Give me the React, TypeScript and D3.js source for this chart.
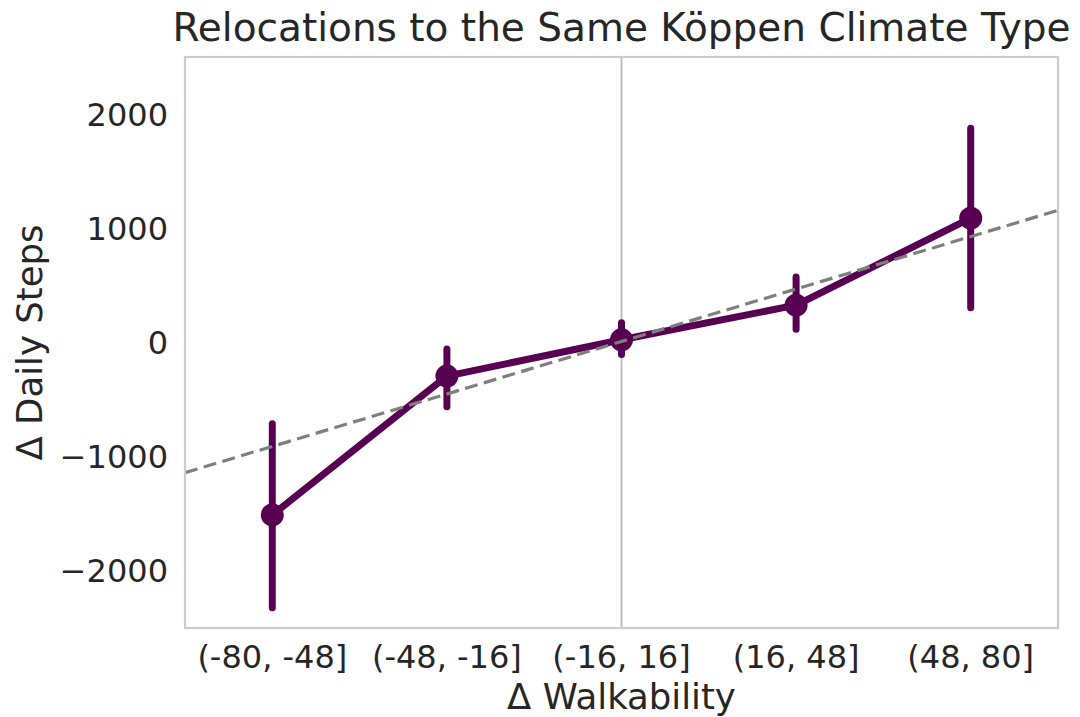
import React, { useEffect, useRef } from "react";
import * as d3 from "d3";

const categories = ["(-80, -48]", "(-48, -16]", "(-16, 16]", "(16, 48]", "(48, 80]"];
const meanSteps = [-1510, -294, 24, 327, 1089];
const ciLow = [-2322, -563, -106, 115, 305];
const ciHigh = [-711, -57, 172, 574, 1877];
const yTicks = [-2000, -1000, 0, 1000, 2000];
// regression line in category-index units: y = intercept + slope * index
const regIntercept = -910;
const regSlope = 459.4;

const W = 1080, H = 717;
const M = { left: 185, right: 1058, top: 57, bottom: 628 };
const PURPLE = "#580052";
const FONT = "DejaVu Sans, sans-serif";
const TXT = "#262626";

export default function App() {
  const ref = useRef<SVGSVGElement>(null);
  useEffect(() => {
    const svg = d3.select(ref.current);
    svg.selectAll("*").remove();
    const x = d3.scaleLinear().domain([-0.5, 4.5]).range([M.left, M.right]);
    const y = d3.scaleLinear().domain([-2500, 2500]).range([M.bottom, M.top]);

    svg.append("line")
      .attr("x1", x(2)).attr("x2", x(2))
      .attr("y1", M.top).attr("y2", M.bottom)
      .attr("stroke", "#b8b8b8").attr("stroke-width", 1.8);

    const clip = svg.append("defs").append("clipPath").attr("id", "plotclip");
    clip.append("rect").attr("x", M.left).attr("y", M.top)
      .attr("width", M.right - M.left).attr("height", M.bottom - M.top);

    const g = svg.append("g").attr("clip-path", "url(#plotclip)");

    categories.forEach((_, i) => {
      g.append("line")
        .attr("x1", x(i)).attr("x2", x(i))
        .attr("y1", y(ciLow[i])).attr("y2", y(ciHigh[i]))
        .attr("stroke", PURPLE).attr("stroke-width", 7)
        .attr("stroke-linecap", "round");
    });

    const line = d3.line<number>().x((_, i) => x(i)).y((d) => y(d));
    g.append("path").datum(meanSteps)
      .attr("d", line)
      .attr("fill", "none").attr("stroke", PURPLE).attr("stroke-width", 7)
      .attr("stroke-linejoin", "round").attr("stroke-linecap", "round");

    g.selectAll("circle.pt").data(meanSteps).enter().append("circle")
      .attr("cx", (_, i) => x(i)).attr("cy", (d) => y(d)).attr("r", 11.5)
      .attr("fill", PURPLE);

    g.append("line")
      .attr("x1", x(-0.5)).attr("x2", x(4.5))
      .attr("y1", y(regIntercept + regSlope * -0.5))
      .attr("y2", y(regIntercept + regSlope * 4.5))
      .attr("stroke", "#7f7f7f").attr("stroke-width", 3.2)
      .attr("stroke-dasharray", "13,6.5");

    svg.append("rect").attr("x", M.left).attr("y", M.top)
      .attr("width", M.right - M.left).attr("height", M.bottom - M.top)
      .attr("fill", "none").attr("stroke", "#cccccc").attr("stroke-width", 2.2);

    svg.selectAll("text.yt").data(yTicks).enter().append("text")
      .attr("x", 168).attr("y", (d) => y(d)).attr("dy", "0.36em")
      .attr("text-anchor", "end").attr("font-family", FONT).attr("font-size", 32)
      .attr("fill", TXT).text((d) => (d < 0 ? "\u2212" + Math.abs(d) : String(d)));

    svg.selectAll("text.xt").data(categories).enter().append("text")
      .attr("x", (_, i) => x(i)).attr("y", 668)
      .attr("text-anchor", "middle").attr("font-family", FONT).attr("font-size", 32)
      .attr("fill", TXT).text((d) => d);

    svg.append("text").attr("x", (M.left + M.right) / 2).attr("y", 709)
      .attr("text-anchor", "middle").attr("font-family", FONT).attr("font-size", 35.5)
      .attr("fill", TXT).text("\u0394 Walkability");

    svg.append("text")
      .attr("transform", `translate(42, ${(M.top + M.bottom) / 2}) rotate(-90)`)
      .attr("text-anchor", "middle").attr("font-family", FONT).attr("font-size", 35.5)
      .attr("fill", TXT).text("\u0394 Daily Steps");

    svg.append("text").attr("x", (M.left + M.right) / 2).attr("y", 41)
      .attr("text-anchor", "middle").attr("font-family", FONT).attr("font-size", 39)
      .attr("fill", TXT).text("Relocations to the Same K\u00f6ppen Climate Type");
  }, []);
  return (
    <svg ref={ref} width={W} height={H}
      style={{ position: "absolute", left: 0, top: 0, background: "#fff", display: "block" }} />
  );
}
